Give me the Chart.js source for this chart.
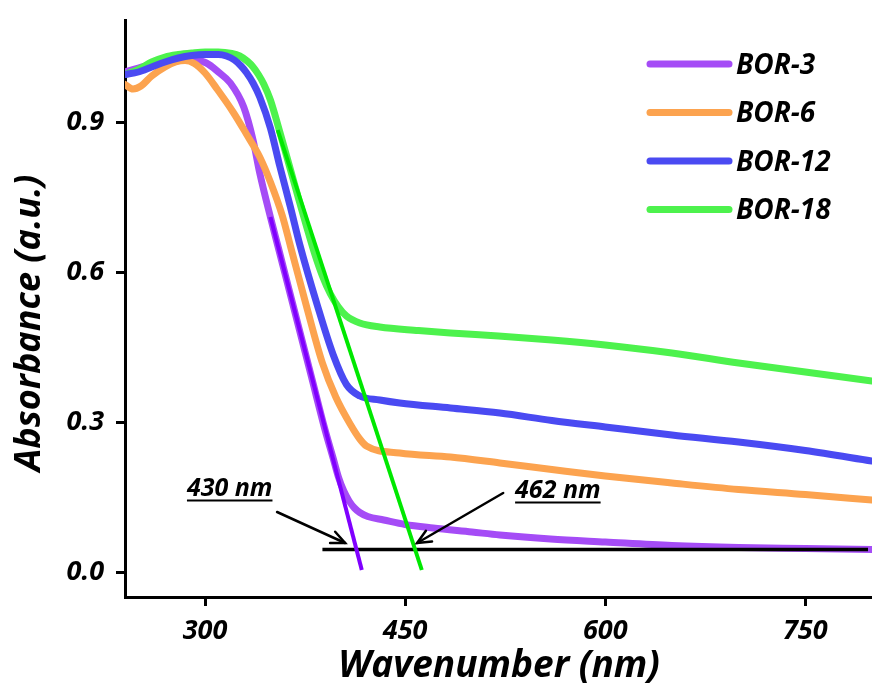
<!DOCTYPE html>
<html><head><meta charset="utf-8">
<script src="https://cdn.jsdelivr.net/npm/chart.js@4/dist/chart.umd.min.js"></script>
<style>html,body{margin:0;padding:0;background:#fff;overflow:hidden}</style>
</head><body>
<canvas id="c" width="872" height="697"></canvas>
<script>
// ---- data ----
const seriesNames = ['BOR-3', 'BOR-6', 'BOR-12', 'BOR-18'];

const bor3X = [240,250,260,270,280,290,301,310,319,329,336,341,349,355,360,370,380,390,396,400,404,408,412,416,422,434,450,471,500,521,559,600,650,700,750,800];
const bor3Y = [1.00,1.008,1.015,1.022,1.026,1.025,1.018,1.0,0.978,0.93,0.864,0.798,0.71,0.648,0.596,0.492,0.388,0.284,0.228,0.19,0.162,0.142,0.128,0.119,0.111,0.104,0.095,0.088,0.08,0.074,0.066,0.06,0.053,0.049,0.047,0.045];

const bor6X = [240,246,252,260,270,278,285,292,300,309,321,331,341,349,358,364,376,388,398,409,416,421,446,484,521,560,600,650,700,750,800];
const bor6Y = [0.975,0.966,0.972,0.992,1.01,1.02,1.023,1.017,0.998,0.966,0.92,0.876,0.83,0.78,0.712,0.652,0.532,0.418,0.35,0.295,0.266,0.252,0.238,0.23,0.218,0.205,0.192,0.178,0.165,0.155,0.144];

const bor12X = [240,250,260,270,280,290,300,310,316,322,327,331,336,341,349,356,364,371,384,396,406,416,431,446,484,521,560,600,650,700,750,800];
const bor12Y = [0.995,1.0,1.01,1.02,1.028,1.033,1.035,1.035,1.032,1.024,1.012,0.999,0.978,0.95,0.888,0.812,0.73,0.655,0.535,0.435,0.375,0.352,0.344,0.338,0.328,0.318,0.303,0.29,0.274,0.26,0.243,0.222];

const bor18X = [240,250,260,270,280,290,300,310,320,326,332,336,340,344,349,355,364,370,376,382,388,394,400,406,416,431,460,484,520,560,600,650,700,750,800];
const bor18Y = [0.995,1.005,1.02,1.03,1.035,1.038,1.04,1.04,1.037,1.032,1.021,1.01,0.995,0.976,0.944,0.89,0.805,0.748,0.692,0.638,0.592,0.556,0.53,0.512,0.498,0.49,0.483,0.478,0.472,0.464,0.454,0.438,0.418,0.4,0.382];

// tangent (onset) lines and baseline
const tan3X = [349, 417.5];    const tan3Y = [0.71, 0.004];
const tan18X = [354.5, 462.5]; const tan18Y = [0.884, 0.004];
const baseX = [388, 797];      const baseY = [0.045, 0.045];

const xTicks = [300, 450, 600, 750];
const yTicks = [0.0, 0.3, 0.6, 0.9];
const annotationLabels = ['430 nm', '462 nm'];
const xTitle = 'Wavenumber (nm)';
const yTitle = 'Absorbance (a.u.)';

// ---- styling / layout ----
const FONT = '"Open Sans", "DejaVu Sans", sans-serif';
const curveColors = ['#a54cf6', '#fca34f', '#4a4af2', '#4df24d'];
const tanColors = ['#8000ff', '#00e800'];

// annotation placement in data units (wavelength, absorbance)
const annotations = [
  { text: annotationLabels[0], at: [318.5, 0.168], from: [354, 0.12], to: [405, 0.058] },
  { text: annotationLabels[1], at: [564.5, 0.164], from: [523.5, 0.158], to: [459, 0.058] }
];

const pts = (xs, ys) => xs.map((x, i) => ({ x: x, y: ys[i] }));

const curveDs = (i, xs, ys, order) => ({
  label: seriesNames[i], data: pts(xs, ys), borderColor: curveColors[i],
  borderWidth: 7, pointRadius: 0, cubicInterpolationMode: 'monotone',
  borderCapStyle: 'round', borderJoinStyle: 'round', order: order, fill: false
});
const lineDs = (label, xs, ys, color, w) => ({
  label: label, data: pts(xs, ys), borderColor: color, borderWidth: w,
  pointRadius: 0, tension: 0, order: 0, fill: false, borderCapStyle: 'butt'
});

const overlay = {
  id: 'overlay',
  afterDatasetsDraw(chart) {
    const ctx = chart.ctx, xs = chart.scales.x, ys = chart.scales.y;
    ctx.save();
    ctx.strokeStyle = '#000';
    annotations.forEach(a => {
      const x1 = xs.getPixelForValue(a.from[0]), y1 = ys.getPixelForValue(a.from[1]);
      const x2 = xs.getPixelForValue(a.to[0]), y2 = ys.getPixelForValue(a.to[1]);
      ctx.lineWidth = 2.5; ctx.lineCap = 'round';
      ctx.beginPath(); ctx.moveTo(x1, y1); ctx.lineTo(x2, y2); ctx.stroke();
      const ang = Math.atan2(y2 - y1, x2 - x1), L = 15, sp = 0.42;
      ctx.beginPath();
      ctx.moveTo(x2 - L * Math.cos(ang - sp), y2 - L * Math.sin(ang - sp));
      ctx.lineTo(x2, y2);
      ctx.lineTo(x2 - L * Math.cos(ang + sp), y2 - L * Math.sin(ang + sp));
      ctx.stroke();
      ctx.font = 'italic bold 25px ' + FONT;
      ctx.fillStyle = '#000'; ctx.textAlign = 'center'; ctx.textBaseline = 'alphabetic';
      const tx = xs.getPixelForValue(a.at[0]), ty = ys.getPixelForValue(a.at[1]);
      ctx.fillText(a.text, tx, ty + 8);
      const w = ctx.measureText(a.text).width;
      ctx.lineWidth = 2; ctx.lineCap = 'butt';
      ctx.beginPath(); ctx.moveTo(tx - w / 2, ty + 12.5); ctx.lineTo(tx + w / 2, ty + 12.5); ctx.stroke();
    });
    // legend
    const lx0 = 650, lx1 = 729, ly0 = 64, dy = 48.5;
    ctx.font = 'italic bold 28px ' + FONT;
    ctx.textAlign = 'left'; ctx.textBaseline = 'middle';
    seriesNames.forEach((n, i) => {
      const y = ly0 + i * dy;
      ctx.strokeStyle = curveColors[i]; ctx.lineWidth = 7; ctx.lineCap = 'round';
      ctx.beginPath(); ctx.moveTo(lx0, y); ctx.lineTo(lx1, y); ctx.stroke();
      ctx.fillStyle = '#000';
      ctx.fillText(n, 736, y + 2);
    });
    // axis titles
    ctx.fillStyle = '#000';
    ctx.font = 'italic bold 37px ' + FONT;
    ctx.textAlign = 'center'; ctx.textBaseline = 'middle';
    ctx.fillText(xTitle, 499, 666);
    ctx.save();
    ctx.translate(30, 323); ctx.rotate(-Math.PI / 2);
    ctx.font = 'italic bold 36px ' + FONT;
    ctx.fillText(yTitle, 0, 0);
    ctx.restore();
    ctx.restore();
  }
};

new Chart(document.getElementById('c'), {
  type: 'line',
  data: {
    datasets: [
      curveDs(0, bor3X, bor3Y, 4),
      curveDs(1, bor6X, bor6Y, 3),
      curveDs(2, bor12X, bor12Y, 1),
      curveDs(3, bor18X, bor18Y, 2),
      lineDs('onset BOR-3', tan3X, tan3Y, tanColors[0], 4),
      lineDs('onset BOR-18', tan18X, tan18Y, tanColors[1], 4),
      lineDs('baseline', baseX, baseY, '#000', 3.5)
    ]
  },
  options: {
    responsive: false, animation: false,
    layout: { padding: { top: 20, right: 0, left: 0, bottom: 0 } },
    plugins: { legend: { display: false }, tooltip: { enabled: false } },
    scales: {
      x: {
        type: 'linear', min: 240, max: 800,
        afterBuildTicks: s => { s.ticks = xTicks.map(v => ({ value: v })); },
        afterFit: s => { s.height = 100; s.paddingLeft = 0; s.paddingRight = 0; },
        border: { display: true, color: '#000', width: 3 },
        grid: { display: true, drawOnChartArea: false, drawTicks: true, tickLength: 9, tickColor: '#000', tickWidth: 3 },
        ticks: { color: '#000', padding: 9, font: { family: FONT, size: 27, style: 'italic', weight: 'bold' }, maxRotation: 0,
                 callback: v => String(v) },
        title: { display: false }
      },
      y: {
        type: 'linear', min: -0.05, max: 1.104,
        afterBuildTicks: s => { s.ticks = yTicks.map(v => ({ value: v })); },
        afterFit: s => { s.width = 125; s.paddingTop = 0; s.paddingBottom = 0; },
        border: { display: true, color: '#000', width: 3 },
        grid: { display: true, drawOnChartArea: false, drawTicks: true, tickLength: 9, tickColor: '#000', tickWidth: 3 },
        ticks: { color: '#000', padding: 12, font: { family: FONT, size: 27, style: 'italic', weight: 'bold' },
                 callback: v => Number(v).toFixed(1) },
        title: { display: false }
      }
    }
  },
  plugins: [overlay]
});
</script>
</body></html>
